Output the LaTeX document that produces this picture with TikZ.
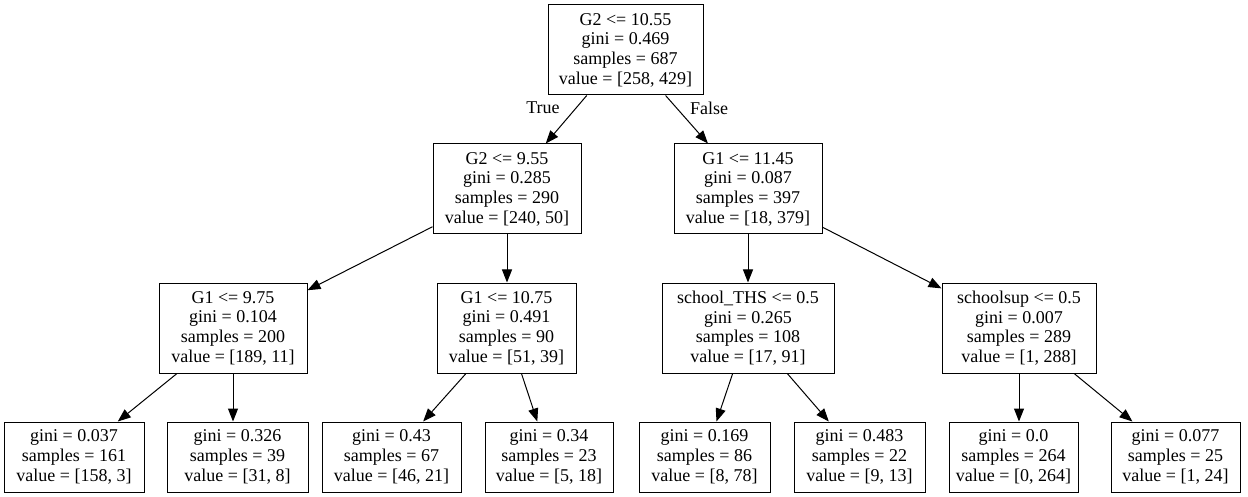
\documentclass[tikz,border=0pt]{standalone}
\usepackage{fontspec}
\setmainfont{Liberation Serif}
\usetikzlibrary{arrows.meta}
\begin{document}
\begin{tikzpicture}[x=1pt,y=-1pt,
  box/.style={draw, line width=1pt, inner sep=0pt, align=center,
    minimum height=90pt, font=\fontsize{18}{19.7}\selectfont},
  leaf/.style={box, minimum height=70pt},
  edge/.style={line width=1pt, -{Triangle[length=13pt,width=10pt]}},
  lbl/.style={font=\fontsize{18}{20}\selectfont, inner sep=0pt}]
\fill[white] (0,0) rectangle (1248,497);
\useasboundingbox (0,0) rectangle (1248,497);

% split nodes
\node[box, minimum width=155pt] (root) at (625.5,50)
  {G2 <= 10.55\\gini = 0.469\\samples = 687\\value = [258, 429]};
\node[box, minimum width=148pt] (n1) at (507,189)
  {G2 <= 9.55\\gini = 0.285\\samples = 290\\value = [240, 50]};
\node[box, minimum width=148pt] (n2) at (748,189)
  {G1 <= 11.45\\gini = 0.087\\samples = 397\\value = [18, 379]};
\node[box, minimum width=148pt] (n3) at (233,328)
  {G1 <= 9.75\\gini = 0.104\\samples = 200\\value = [189, 11]};
\node[box, minimum width=139pt] (n4) at (506.5,328)
  {G1 <= 10.75\\gini = 0.491\\samples = 90\\value = [51, 39]};
\node[box, minimum width=172pt] (n5) at (748,328)
  {school\_THS <= 0.5\\gini = 0.265\\samples = 108\\value = [17, 91]};
\node[box, minimum width=154pt] (n6) at (1019,328)
  {schoolsup <= 0.5\\gini = 0.007\\samples = 289\\value = [1, 288]};

% leaves
\node[leaf, minimum width=140pt] (l1) at (74,457)
  {gini = 0.037\\samples = 161\\value = [158, 3]};
\node[leaf, minimum width=141pt] (l2) at (237.5,457)
  {gini = 0.326\\samples = 39\\value = [31, 8]};
\node[leaf, minimum width=139pt] (l3) at (391.5,457)
  {gini = 0.43\\samples = 67\\value = [46, 21]};
\node[leaf, minimum width=128pt] (l4) at (549,457)
  {gini = 0.34\\samples = 23\\value = [5, 18]};
\node[leaf, minimum width=131pt] (l5) at (704.5,457)
  {gini = 0.169\\samples = 86\\value = [8, 78]};
\node[leaf, minimum width=131pt] (l6) at (859.5,457)
  {gini = 0.483\\samples = 22\\value = [9, 13]};
\node[leaf, minimum width=129pt] (l7) at (1013.5,457)
  {gini = 0.0\\samples = 264\\value = [0, 264]};
\node[leaf, minimum width=129pt] (l8) at (1175.5,457)
  {gini = 0.077\\samples = 25\\value = [1, 24]};

% edges
\draw[edge] (root) -- (n1);
\draw[edge] (root) -- (n2);
\draw[edge] (n1) -- (n3);
\draw[edge] (n1.south) -- (n1.south |- n4.north);
\draw[edge] (n2.south) -- (n2.south |- n5.north);
\draw[edge] (n2) -- (n6);
\draw[edge] (n3) -- (l1);
\draw[edge] (n3.south) -- (n3.south |- l2.north);
\draw[edge] (n4) -- (l3);
\draw[edge] (n4) -- (l4);
\draw[edge] (n5) -- (l5);
\draw[edge] (n5) -- (l6);
\draw[edge] (n6.south) -- (n6.south |- l7.north);
\draw[edge] (n6) -- (l8);

% branch labels
\node[lbl] (tlab) at (543,108) {True};
\node[lbl] (flab) at (709,108) {False};
\end{tikzpicture}
\end{document}
